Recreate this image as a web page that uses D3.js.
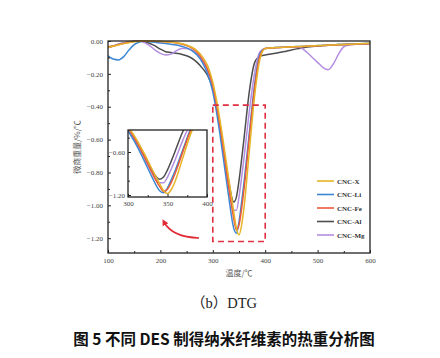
<!DOCTYPE html>
<html><head><meta charset="utf-8">
<script src="https://cdn.jsdelivr.net/npm/d3@7"></script>
<style>body{margin:0;background:#fff}svg{display:block}</style>
</head><body>
<svg id="c" width="440" height="358"></svg>
<script>
const temps = [100,110,120,130,140,150,160,170,180,190,200,210,220,230,240,250,260,270,280,290,
  300,310,320,330,340,345,350,355,360,370,380,390,400,420,440,460,
  470,480,490,500,510,520,530,540,550,560,580,600];
const cncX  = [-0.04,-0.032,-0.024,-0.016,-0.01,-0.004,-0.001,0,0,-0.001,-0.002,-0.004,-0.007,-0.01,-0.015,-0.024,-0.038,-0.06,-0.095,-0.15,
  -0.25,-0.41,-0.61,-0.83,-1.04,-1.14,-1.18,-1.12,-1.0,-0.66,-0.33,-0.11,-0.045,-0.04,-0.037,-0.034,
  -0.033,-0.031,-0.03,-0.028,-0.027,-0.025,-0.024,-0.022,-0.021,-0.02,-0.017,-0.014];
const cncLi = [-0.09,-0.11,-0.115,-0.095,-0.055,-0.022,-0.006,0,-0.004,-0.008,-0.012,-0.016,-0.02,-0.025,-0.032,-0.042,-0.058,-0.085,-0.13,-0.2,
  -0.31,-0.49,-0.71,-0.94,-1.14,-1.17,-1.1,-0.98,-0.85,-0.55,-0.26,-0.08,-0.045,-0.04,-0.037,-0.034,
  -0.033,-0.031,-0.03,-0.028,-0.027,-0.025,-0.024,-0.022,-0.021,-0.02,-0.017,-0.014];
const cncFe = [-0.035,-0.03,-0.022,-0.015,-0.008,-0.003,0,0,-0.001,-0.002,-0.003,-0.005,-0.008,-0.012,-0.018,-0.028,-0.043,-0.068,-0.11,-0.17,
  -0.27,-0.44,-0.65,-0.88,-1.08,-1.15,-1.12,-1.02,-0.89,-0.58,-0.28,-0.09,-0.045,-0.041,-0.038,-0.035,
  -0.034,-0.032,-0.031,-0.029,-0.028,-0.026,-0.025,-0.023,-0.022,-0.021,-0.018,-0.015];
const cncAl = [-0.04,-0.03,-0.02,-0.012,-0.006,-0.002,0,-0.005,-0.015,-0.03,-0.05,-0.065,-0.07,-0.075,-0.08,-0.09,-0.105,-0.13,-0.165,-0.21,
  -0.29,-0.45,-0.65,-0.85,-0.98,-0.95,-0.85,-0.72,-0.58,-0.30,-0.13,-0.092,-0.085,-0.075,-0.062,-0.048,
  -0.042,-0.037,-0.033,-0.03,-0.028,-0.026,-0.024,-0.022,-0.021,-0.02,-0.018,-0.016];
const cncMg = [-0.04,-0.03,-0.02,-0.012,-0.006,-0.002,0,-0.01,-0.03,-0.055,-0.075,-0.085,-0.08,-0.06,-0.045,-0.045,-0.055,-0.08,-0.12,-0.18,
  -0.28,-0.45,-0.66,-0.88,-1.03,-1.03,-0.95,-0.83,-0.70,-0.42,-0.19,-0.065,-0.045,-0.04,-0.038,-0.036,
  -0.045,-0.07,-0.1,-0.13,-0.16,-0.175,-0.14,-0.08,-0.035,-0.025,-0.018,-0.015];
const seriesNames = ["CNC-X","CNC-Li","CNC-Fe","CNC-Al","CNC-Mg"];
const seriesColors = ["#e6b428","#3b87d4","#ea5a3a","#4d4d4d","#b48ee0"];
const seriesValues = [cncX, cncLi, cncFe, cncAl, cncMg];
const drawOrder = [3,4,1,2,0];
const xTicks = [100,200,300,400,500,600];
const yTicks = [0,-0.2,-0.4,-0.6,-0.8,-1.0,-1.2];
const insetXTicks = [300,350,400];
const insetYTicks = [-0.6,-1.2];
const xTitle = "温度/℃", yTitle = "微商重量/%/℃";
const subCaption = "（b）DTG";
const figCaption = "图 5 不同 DES 制得纳米纤维素的热重分析图";

const svg = d3.select("#c");
const serif = "'Liberation Serif','DejaVu Serif',serif";
const L=108,R=370,T=41,B=253;
const x = d3.scaleLinear().domain([100,600]).range([L,R]);
const y = d3.scaleLinear().domain([-1.29,0]).range([B,T]);

function drawCurves(g, xs, ys){
  drawOrder.forEach(i=>{
    const line = d3.line().x((d,j)=>xs(temps[j])).y(d=>ys(d)).curve(d3.curveMonotoneX);
    g.append("path").attr("d", line(seriesValues[i])).attr("fill","none")
      .attr("stroke", seriesColors[i]).attr("stroke-width",1.5).attr("stroke-linejoin","round");
  });
}
svg.append("clipPath").attr("id","mc").append("rect").attr("x",L).attr("y",T-2).attr("width",R-L).attr("height",B-T+2);
drawCurves(svg.append("g").attr("clip-path","url(#mc)"), x, y);

svg.append("g").attr("transform",`translate(0,${B})`)
  .call(d3.axisBottom(x).tickValues(xTicks).tickSize(-3).tickPadding(5).tickFormat(d3.format("d")));
svg.append("g").attr("transform",`translate(0,${B})`)
  .call(d3.axisBottom(x).tickValues(d3.range(150,600,100)).tickSize(-2).tickFormat(""));
svg.append("g").attr("transform",`translate(${L},0)`)
  .call(d3.axisLeft(y).tickValues(yTicks).tickSize(-3).tickPadding(5).tickFormat(d3.format(".2f")));
svg.append("g").attr("transform",`translate(${L},0)`)
  .call(d3.axisLeft(y).tickValues([-0.1,-0.3,-0.5,-0.7,-0.9,-1.1]).tickSize(-2).tickFormat(""));
svg.selectAll(".domain").remove();
svg.selectAll(".tick line").attr("stroke","#222");
svg.selectAll(".tick text").attr("font-family",serif).attr("font-size",7).attr("fill","#444");
svg.append("rect").attr("x",L).attr("y",T).attr("width",R-L).attr("height",B-T)
  .attr("fill","none").attr("stroke","#222").attr("stroke-width",1.3);

svg.append("text").attr("x",239).attr("y",276).attr("text-anchor","middle")
  .attr("font-family","'Noto Sans CJK SC',sans-serif").attr("font-size",8).attr("fill","#555").text(xTitle);
svg.append("text").attr("transform","translate(80,147) rotate(-90)").attr("text-anchor","middle")
  .attr("font-family","'Noto Sans CJK SC',sans-serif").attr("font-size",8).attr("fill","#555").text(yTitle);

svg.append("rect").attr("x",x(300)).attr("y",y(-0.39)).attr("width",x(400)-x(300)).attr("height",y(-1.22)-y(-0.39))
  .attr("fill","none").attr("stroke","#e03040").attr("stroke-width",1.6).attr("stroke-dasharray","6,4");

const iL=128,iR=207,iT=130,iB=197;
const xi = d3.scaleLinear().domain([300,400]).range([iL,iR]);
const yi = d3.scaleLinear().domain([-1.228,-0.293]).range([iB,iT]);
svg.append("rect").attr("x",iL).attr("y",iT).attr("width",iR-iL).attr("height",iB-iT).attr("fill","#fff");
svg.append("clipPath").attr("id","ic").append("rect").attr("x",iL).attr("y",iT).attr("width",iR-iL).attr("height",iB-iT);
drawCurves(svg.append("g").attr("clip-path","url(#ic)"), xi, yi);
const ig = svg.append("g");
ig.append("g").attr("transform",`translate(0,${iB})`)
  .call(d3.axisBottom(xi).tickValues(insetXTicks).tickSize(-3).tickPadding(4).tickFormat(d3.format("d")));
ig.append("g").attr("transform",`translate(0,${iB})`)
  .call(d3.axisBottom(xi).tickValues([325,375]).tickSize(-2).tickFormat(""));
ig.append("g").attr("transform",`translate(${iL},0)`)
  .call(d3.axisLeft(yi).tickValues(insetYTicks).tickSize(-3).tickPadding(3).tickFormat(d3.format(".2f")));
ig.append("g").attr("transform",`translate(${iL},0)`)
  .call(d3.axisLeft(yi).tickValues([-0.4,-0.8,-1.0]).tickSize(-2).tickFormat(""));
ig.selectAll(".domain").remove();
ig.selectAll(".tick line").attr("stroke","#222");
ig.selectAll(".tick text").attr("font-family",serif).attr("font-size",7).attr("fill","#444");
svg.append("rect").attr("x",iL).attr("y",iT).attr("width",iR-iL).attr("height",iB-iT)
  .attr("fill","none").attr("stroke","#222").attr("stroke-width",1.3);

const defs = svg.append("defs");
defs.append("marker").attr("id","ah").attr("viewBox","0 0 10 10").attr("refX",5).attr("refY",5)
  .attr("markerWidth",4).attr("markerHeight",5).attr("orient","auto")
  .append("path").attr("d","M0,0 L10,5 L0,10 z").attr("fill","#e02a35");
svg.append("path").attr("d","M199,238 Q172,237 164,222").attr("fill","none")
  .attr("stroke","#e02a35").attr("stroke-width",1.6).attr("marker-end","url(#ah)");

seriesNames.forEach((n,i)=>{
  const ly = 181 + i*13.5;
  svg.append("line").attr("x1",317).attr("x2",334).attr("y1",ly).attr("y2",ly)
    .attr("stroke",seriesColors[i]).attr("stroke-width",1.6);
  svg.append("text").attr("x",337).attr("y",ly+2.5).attr("font-family",serif).attr("font-weight","bold")
    .attr("font-size",7).attr("fill","#333").text(n);
});

svg.append("text").attr("x",224).attr("y",308).attr("text-anchor","middle")
  .attr("font-family","'Liberation Serif','Noto Sans CJK SC',serif").attr("font-size",14.5).attr("fill","#222").text(subCaption);
svg.append("text").attr("x",224).attr("y",345).attr("text-anchor","middle")
  .attr("font-family","'Noto Sans CJK SC',sans-serif").attr("font-weight","bold").attr("font-size",15.5).attr("fill","#111").text(figCaption);
</script>
</body></html>
